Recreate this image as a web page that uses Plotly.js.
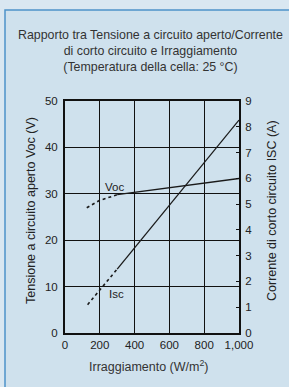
<!DOCTYPE html>
<html><head><meta charset="utf-8">
<script src="https://cdn.plot.ly/plotly-3.0.1.min.js"></script>
<style>html,body{margin:0;padding:0;background:#d9e7f1;}#chart{width:289px;height:387px;}</style>
</head><body><div id="chart"></div>
<script>
// Irradiance (W/m2)
var vocDotX = [125, 200, 300];
var vocDotY = [27.0, 28.6, 29.8];
var vocX = [300, 1000];
var vocY = [29.8, 33.3];
var iscDotX = [130, 300];
var iscDotY = [1.1, 2.48];
var iscX = [300, 1000];
var iscY = [2.48, 8.26];
var xTickVals = [0, 200, 400, 600, 800, 1000];
var xTickText = ['0', '200', '400', '600', '800', '1,000'];
var yTickVals = [0, 10, 20, 30, 40, 50];
var y2TickVals = [0, 1, 2, 3, 4, 5, 6, 7, 8, 9];

var L = 65, T = 101, W = 174, H = 232;
function px(x){return (x - L)/W;}
function py(y){return (T + H - y)/H;}

var lineC = '#1a1a1a';
var traces = [
  {x: vocDotX, y: vocDotY, mode: 'lines', line: {color: lineC, width: 1.6, dash: 'dot'}, hoverinfo: 'skip'},
  {x: vocX, y: vocY, mode: 'lines', line: {color: lineC, width: 1.3}, hoverinfo: 'skip'},
  {x: iscDotX, y: iscDotY, yaxis: 'y2', mode: 'lines', line: {color: lineC, width: 1.6, dash: 'dot'}, hoverinfo: 'skip'},
  {x: iscX, y: iscY, yaxis: 'y2', mode: 'lines', line: {color: lineC, width: 1.3}, hoverinfo: 'skip'}
];
var tickFont = {family: 'Liberation Sans, Arial, sans-serif', size: 11.5, color: '#222'};
var layout = {
  width: 289, height: 387, showlegend: false,
  margin: {l: L, r: 289 - L - W, t: T, b: 387 - T - H, pad: 0},
  paper_bgcolor: '#d9e7f1', plot_bgcolor: 'rgba(0,0,0,0)',
  xaxis: {range: [0, 1000], tickvals: xTickVals, ticktext: xTickText, showgrid: true, gridcolor: '#111', gridwidth: 1.1,
    zeroline: false, showline: true, linecolor: '#111', linewidth: 2, mirror: true, ticks: '', tickfont: tickFont, fixedrange: true},
  yaxis: {range: [0, 50], tickvals: yTickVals, showgrid: true, gridcolor: '#111', gridwidth: 1.1, ticklabelstandoff: 3,
    zeroline: false, showline: true, linecolor: '#111', linewidth: 2, mirror: true, ticks: '', tickfont: tickFont, fixedrange: true},
  yaxis2: {range: [0, 9], tickvals: y2TickVals, overlaying: 'y', side: 'right', showgrid: false, zeroline: false, ticklabelstandoff: 2,
    showline: true, linecolor: '#111', linewidth: 2, ticks: 'inside', ticklen: 3, tickcolor: '#111', tickfont: tickFont, fixedrange: true},
  shapes: [
    {type: 'rect', xref: 'paper', yref: 'paper', x0: px(5), x1: px(300), y0: py(400), y1: py(10),
      fillcolor: '#cfe1ed', line: {color: '#4d93c9', width: 1.5}, layer: 'below'}
  ],
  annotations: [
    {xref: 'paper', yref: 'paper', x: px(150), y: py(26), xanchor: 'center', yanchor: 'top', showarrow: false, align: 'center',
      text: 'Rapporto tra Tensione a circuito aperto/Corrente<br>di corto circuito e Irraggiamento<br>(Temperatura della cella: 25 °C)',
      font: {family: 'Liberation Sans, Arial, sans-serif', size: 12.4, color: '#333'}},
    {xref: 'paper', yref: 'paper', x: px(31), y: py(211), xanchor: 'center', yanchor: 'middle', showarrow: false, textangle: -90,
      text: 'Tensione a circuito aperto Voc (V)', font: {family: 'Liberation Sans, Arial, sans-serif', size: 12.5, color: '#222'}},
    {xref: 'paper', yref: 'paper', x: px(272), y: py(211), xanchor: 'center', yanchor: 'middle', showarrow: false, textangle: -90,
      text: 'Corrente di corto circuito ISC (A)', font: {family: 'Liberation Sans, Arial, sans-serif', size: 12.5, color: '#222'}},
    {xref: 'paper', yref: 'paper', x: px(149), y: py(366), xanchor: 'center', yanchor: 'middle', showarrow: false,
      text: 'Irraggiamento (W/m<sup>2</sup>)', font: {family: 'Liberation Sans, Arial, sans-serif', size: 12.5, color: '#333'}},
    {xref: 'x', yref: 'y', x: 287, y: 31.5, xanchor: 'center', yanchor: 'middle', showarrow: false, text: 'Voc',
      font: {family: 'Liberation Sans, Arial, sans-serif', size: 11.5, color: '#222'}},
    {xref: 'x', yref: 'y', x: 296, y: 8.4, xanchor: 'center', yanchor: 'middle', showarrow: false, text: 'Isc',
      font: {family: 'Liberation Sans, Arial, sans-serif', size: 11.5, color: '#222'}}
  ]
};
Plotly.newPlot('chart', traces, layout, {staticPlot: true, displayModeBar: false});
</script></body></html>
